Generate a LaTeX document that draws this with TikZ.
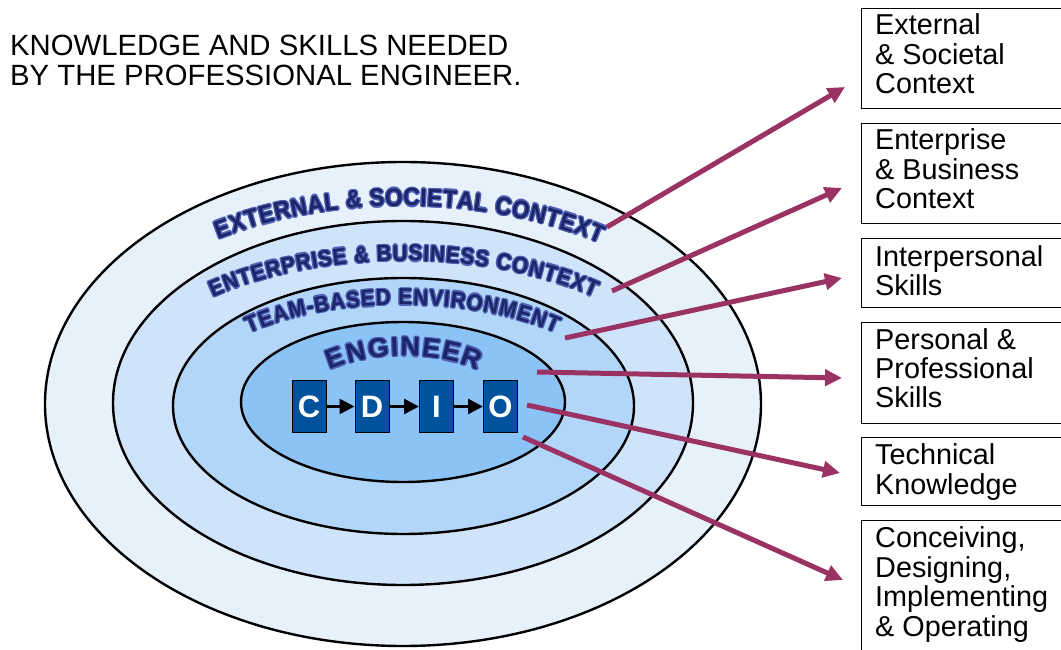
\documentclass[tikz,border=0pt]{standalone}
\usepackage{fontspec}
\setmainfont{Liberation Sans}
\newfontfamily\wanarrow[FakeStretch=0.9]{Liberation Sans Bold}
\newfontfamily\wawide{Liberation Sans Bold}
\usetikzlibrary{arrows.meta,decorations.text}
\definecolor{ringA}{HTML}{E7F1FC}
\definecolor{ringB}{HTML}{CFE4FA}
\definecolor{ringC}{HTML}{B1D6F9}
\definecolor{ringD}{HTML}{8CC3F6}
\definecolor{boxblue}{HTML}{00529C}
\definecolor{linkred}{HTML}{9A3264}
\definecolor{wanavy}{HTML}{1C2568}
\definecolor{waglow}{HTML}{5060B4}
\newcommand{\curvedlabel}[9]{%
  \foreach \dx/\dy in {1.3/0,-1.3/0,0/1.3,0/-1.3,0.95/0.95,-0.95/0.95,0.95/-0.95,-0.95/-0.95}{%
    \path[decorate,decoration={text along path,text align={fit to path},
      text={|#9\fontsize{#7}{#7}\selectfont\color{waglow}|#8}}]
      ({#1+\dx},{649-#2+\dy}) ++(#5:#3 and #4)
      arc[start angle=#5,end angle=#6,x radius=#3,y radius=#4];
  }%
  \path[decorate,decoration={text along path,text align={fit to path},
    text={|#9\fontsize{#7}{#7}\selectfont\color{wanavy}|#8}}]
    (#1,649-#2) ++(#5:#3 and #4)
    arc[start angle=#5,end angle=#6,x radius=#3,y radius=#4];
}
\tikzset{
  ring/.style={draw=black,line width=2.4pt},
  cdbox/.style={draw=black,line width=1pt,fill=boxblue,minimum width=34pt,minimum height=51pt,
    inner sep=0pt,text=white,font=\bfseries\fontsize{31}{31}\selectfont},
  cdarrow/.style={-{Triangle[length=15pt,width=15pt]},line width=2.6pt,black},
  rbox/.style={draw=black,line width=1.4pt,fill=white,anchor=north west,minimum width=230pt,inner sep=0pt},
  rtext/.style={anchor=base west,align=left,inner sep=0pt,font=\fontsize{28.8}{29.5}\selectfont},
  link/.style={-{Triangle[length=17pt,width=16pt]},line width=5pt,linkred},
  titletext/.style={anchor=base west,align=left,inner sep=0pt,font=\fontsize{29.3}{30.5}\selectfont}
}
\begin{document}
\begin{tikzpicture}[x=1pt,y=1pt]
\useasboundingbox (0,0) rectangle (1061,649);
\clip (0,0) rectangle (1061,649);
\fill[white] (0,0) rectangle (1061,649);
% title (anchor base = last line)
\node[titletext] (title) at (10,649-86) {KNOWLEDGE AND SKILLS NEEDED\\BY THE PROFESSIONAL ENGINEER.};
% rings
\draw[ring,fill=ringA] (403,649-404) ellipse [x radius=358,y radius=242];
\draw[ring,fill=ringB] (403,649-403) ellipse [x radius=290,y radius=182];
\draw[ring,fill=ringC] (403.5,649-406) ellipse [x radius=230.5,y radius=128];
\draw[ring,fill=ringD] (403,649-402) ellipse [x radius=162,y radius=80];
% curved labels
\curvedlabel{404}{404}{335}{198}{123.7}{54.2}{25}{EXTERNAL {\&} SOCIETAL CONTEXT}{\wanarrow}
\curvedlabel{403.5}{404}{285}{143}{132}{48}{23}{ENTERPRISE {\&} BUSINESS CONTEXT}{\wanarrow}
\curvedlabel{402.5}{406}{221}{101}{134}{46}{23}{TEAM-BASED ENVIRONMENT}{\wanarrow}
\curvedlabel{404}{412}{112}{56}{131.4}{48.6}{27}{ENGINEER}{\wawide}
% CDIO
\node[cdbox] (C) at (309,649-406.5) {C};
\node[cdbox] (D) at (372,649-406.5) {D};
\node[cdbox] (I) at (436.5,649-406.5) {I};
\node[cdbox] (O) at (500.5,649-406.5) {O};
\draw[cdarrow] (C) -- (D);
\draw[cdarrow] (D) -- (I);
\draw[cdarrow] (I) -- (O);
% right boxes
\node[rbox,minimum height=100pt] (b1) at (861,649-8) {};
\node[rbox,minimum height=100pt] (b2) at (861,649-123) {};
\node[rbox,minimum height=69pt] (b3) at (861,649-238) {};
\node[rbox,minimum height=101pt] (b4) at (861,649-322) {};
\node[rbox,minimum height=68pt] (b5) at (861,649-437) {};
\node[rbox,minimum height=140pt] (b6) at (861,649-520) {};
% texts (anchor base = last line)
\node[rtext] (t1) at (875,649-94) {External\\\& Societal\\Context};
\node[rtext] (t2) at (875,649-209) {Enterprise\\\& Business\\Context};
\node[rtext] (t3) at (875,649-296) {Interpersonal\\Skills};
\node[rtext] (t4) at (875,649-408) {Personal \&\\Professional\\Skills};
\node[rtext] (t5) at (875,649-494) {Technical\\Knowledge};
\node[rtext] (t6) at (875,649-636) {Conceiving,\\Designing,\\Implementing\\\& Operating};
% link arrows
\coordinate (s1) at (607,649-227); \coordinate (e1) at (845,649-87);
\coordinate (s2) at (612,649-291); \coordinate (e2) at (842,649-188);
\coordinate (s3) at (565,649-338); \coordinate (e3) at (842,649-278);
\coordinate (s4) at (537,649-372); \coordinate (e4) at (842,649-378);
\coordinate (s5) at (527,649-405); \coordinate (e5) at (840,649-473);
\coordinate (s6) at (523,649-437); \coordinate (e6) at (843,649-580);
\draw[link] (s1) -- (e1);
\draw[link] (s2) -- (e2);
\draw[link] (s3) -- (e3);
\draw[link] (s4) -- (e4);
\draw[link] (s5) -- (e5);
\draw[link] (s6) -- (e6);
\end{tikzpicture}
\end{document}
